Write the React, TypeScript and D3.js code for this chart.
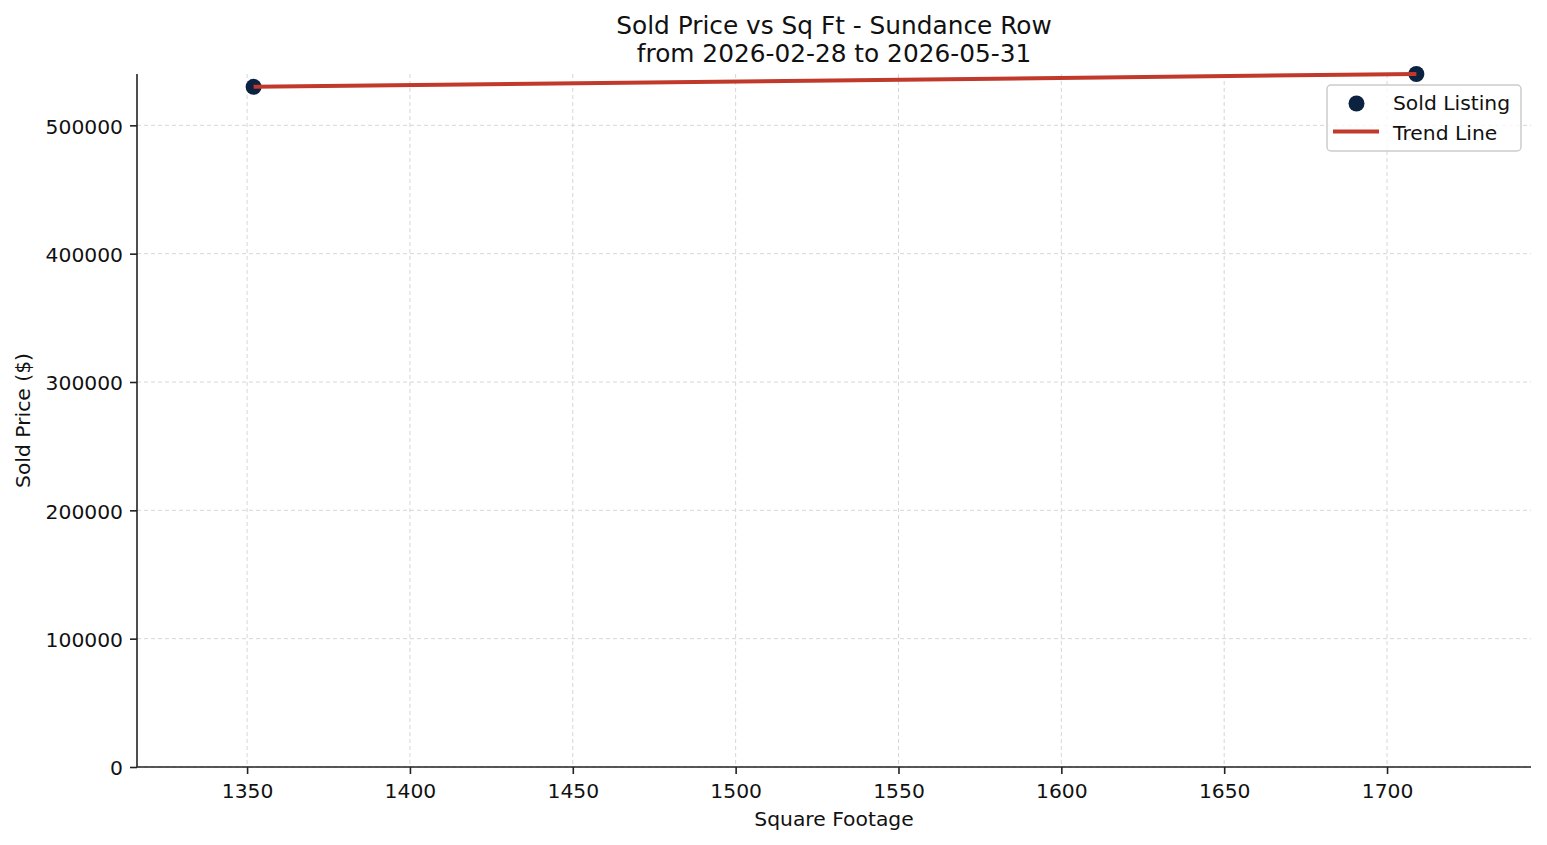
import React, { useEffect, useRef } from 'react';
import { axisBottom, axisLeft, scaleLinear, select, line } from 'd3';

// sold listings
const sqft = [1352, 1709];
const soldPrice = [530000, 540000];
const xTicks = [1350, 1400, 1450, 1500, 1550, 1600, 1650, 1700];
const yTicks = [0, 100000, 200000, 300000, 400000, 500000];
const titleLines = ['Sold Price vs Sq Ft - Sundance Row', 'from 2026-02-28 to 2026-05-31'];

const FONT = '"DejaVu Sans", sans-serif';
const DOT = '#0b2240';
const TREND = '#c0392b';

const App: React.FC = () => {
  const svgRef = useRef<SVGSVGElement>(null);

  const width = 1547, height = 845;
  const margin = { top: 74, right: 16, bottom: 78, left: 137 };

  useEffect(() => {
    const svg = select(svgRef.current);
    svg.selectAll('*').remove();

    const x = scaleLinear().domain([1316.2, 1744.2]).range([margin.left, width - margin.right]);
    const y = scaleLinear().domain([0, 540000]).range([height - margin.bottom, margin.top]);

    // simple least squares for the trend line
    const n = sqft.length;
    const mx = sqft.reduce((a, b) => a + b, 0) / n;
    const my = soldPrice.reduce((a, b) => a + b, 0) / n;
    let sxy = 0, sxx = 0;
    sqft.forEach((v, i) => {
      sxy += (v - mx) * (soldPrice[i] - my);
      sxx += (v - mx) * (v - mx);
    });
    const slope = sxx ? sxy / sxx : 0;
    const icpt = my - slope * mx;
    const xs = [Math.min(...sqft), Math.max(...sqft)];
    const trend = xs.map((v) => [v, icpt + slope * v] as [number, number]);

    // grid
    const grid = svg.append('g');
    grid.selectAll('.gx').data(xTicks).join('line')
      .attr('x1', (d) => x(d)).attr('x2', (d) => x(d))
      .attr('y1', margin.top).attr('y2', height - margin.bottom)
      .attr('stroke', '#d6d6d6').attr('stroke-width', 1).attr('stroke-dasharray', '4,3');
    grid.selectAll('.gy').data(yTicks).join('line')
      .attr('x1', margin.left).attr('x2', width - margin.right)
      .attr('y1', (d) => y(d)).attr('y2', (d) => y(d))
      .attr('stroke', '#d6d6d6').attr('stroke-width', 1).attr('stroke-dasharray', '4,3');

    // axes
    const gx = svg.append('g')
      .attr('transform', `translate(0, ${height - margin.bottom})`)
      .call(axisBottom(x).tickValues(xTicks).tickFormat((d: any) => String(d)).tickSizeOuter(0).tickSize(7).tickPadding(10));
    const gy = svg.append('g')
      .attr('transform', `translate(${margin.left}, 0)`)
      .call(axisLeft(y).tickValues(yTicks).tickFormat((d: any) => String(d)).tickSizeOuter(0).tickSize(7).tickPadding(7));
    [gx, gy].forEach((g) => {
      g.select('.domain').attr('stroke', '#222').attr('stroke-width', 1.6);
      g.selectAll('.tick line').attr('stroke', '#222').attr('stroke-width', 1.6);
      g.selectAll('.tick text').attr('font-family', FONT).attr('font-size', 20.3).attr('fill', '#111');
    });
    gy.selectAll('.tick text').attr('dy', '0.38em');
    gx.select('.domain').attr('d', `M${margin.left},0H${width - margin.right}`);
    gy.select('.domain').attr('d', `M0,${height - margin.bottom}V${margin.top}`);

    // points
    svg.selectAll('.dot').data(sqft).join('circle')
      .attr('cx', (d) => x(d)).attr('cy', (_d, i) => y(soldPrice[i]))
      .attr('r', 8).attr('fill', DOT);

    // trend line drawn over the dots
    svg.append('path')
      .datum(trend)
      .attr('d', line<[number, number]>().x((d) => x(d[0])).y((d) => y(d[1])))
      .attr('fill', 'none').attr('stroke', TREND).attr('stroke-width', 4);

    // titles
    svg.selectAll('.title').data(titleLines).join('text')
      .attr('x', (margin.left + width - margin.right) / 2)
      .attr('y', (_d, i) => 34 + i * 28)
      .attr('text-anchor', 'middle')
      .attr('font-family', FONT).attr('font-size', 24.8).attr('fill', '#111')
      .text((d) => d);

    svg.append('text')
      .attr('x', (margin.left + width - margin.right) / 2).attr('y', 826)
      .attr('text-anchor', 'middle').attr('font-family', FONT).attr('font-size', 20.3).attr('fill', '#111')
      .text('Square Footage');
    svg.append('text')
      .attr('transform', `translate(30, ${(margin.top + height - margin.bottom) / 2}) rotate(-90)`)
      .attr('text-anchor', 'middle').attr('font-family', FONT).attr('font-size', 20.3).attr('fill', '#111')
      .text('Sold Price ($)');

    // legend
    const lg = svg.append('g');
    lg.append('rect')
      .attr('x', 1327).attr('y', 85).attr('width', 194).attr('height', 66).attr('rx', 4)
      .attr('fill', 'white').attr('fill-opacity', 0.8).attr('stroke', '#cccccc').attr('stroke-width', 1.5);
    lg.append('circle').attr('cx', 1356.5).attr('cy', 103.5).attr('r', 8).attr('fill', DOT);
    lg.append('line').attr('x1', 1333).attr('x2', 1379).attr('y1', 131.5).attr('y2', 131.5)
      .attr('stroke', TREND).attr('stroke-width', 4);
    lg.selectAll('.lt').data(['Sold Listing', 'Trend Line']).join('text')
      .attr('x', 1393).attr('y', (_d, i) => 110 + i * 29.5)
      .attr('font-family', FONT).attr('font-size', 20.3).attr('fill', '#111')
      .text((d) => d);
  }, []);

  return (
    <svg ref={svgRef} width={width} height={height}
      style={{ position: 'absolute', left: 0, top: 0, background: 'white' }} />
  );
};

export default App;
